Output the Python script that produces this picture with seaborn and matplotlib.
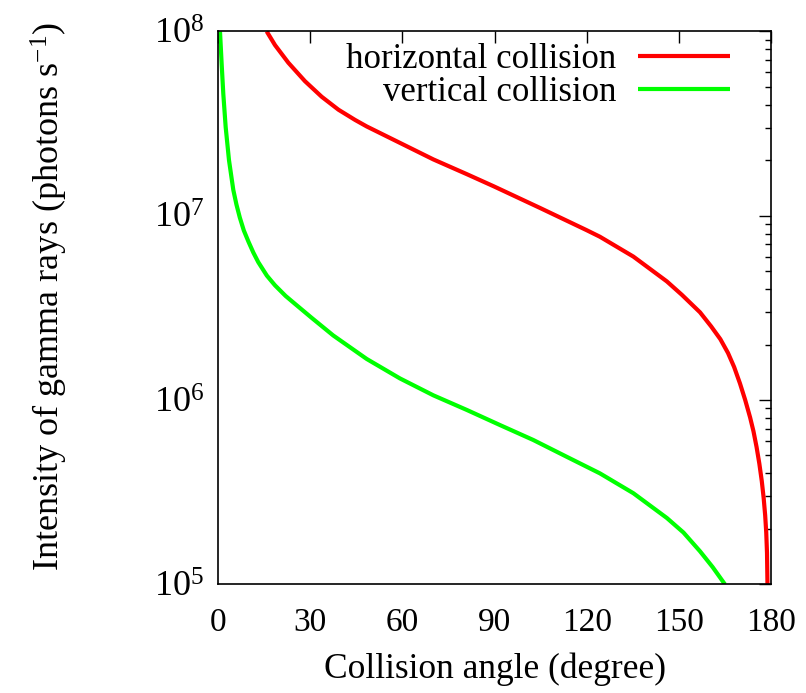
import numpy as np
import pandas as pd
import matplotlib
matplotlib.use("Agg")
import matplotlib.pyplot as plt
from matplotlib.ticker import LogLocator, NullLocator, FixedLocator
import seaborn as sns

# ---- data ----
angle_h = [15.85, 18.55, 22.9, 28.3, 33.75, 39.2, 44.6, 48.4, 59.3, 70.1, 81.0,
           89.9, 104.9, 119.9, 124.3, 135.2, 146.1, 151.0, 156.9, 160.5, 163.5,
           166.0, 168.0, 169.9, 171.6, 173.2, 174.3, 175.3, 176.2, 177.0, 177.6,
           178.1, 178.45, 178.7, 178.85]
intensity_h = [1.00e8, 8.43e7, 6.76e7, 5.37e7, 4.42e7, 3.76e7, 3.31e7, 3.05e7,
               2.48e7, 2.02e7, 1.68e7, 1.44e7, 1.10e7, 8.36e6, 7.69e6, 6.00e6,
               4.40e6, 3.72e6, 2.99e6, 2.51e6, 2.14e6, 1.80e6, 1.51e6, 1.23e6,
               1.00e6, 8.04e5, 6.76e5, 5.56e5, 4.52e5, 3.63e5, 2.95e5, 2.37e5,
               1.91e5, 1.48e5, 1.00e5]

angle_v = [0.65, 1.2, 1.73, 2.5, 3.58, 4.98, 6.0, 7.1, 8.4, 9.9, 11.5, 13.1, 15.9,
           18.55, 22.0, 25.0, 30.5, 37.5, 48.4, 59.2, 70.1, 81.0, 91.8, 102.6,
           113.5, 124.3, 135.2, 146.1, 151.5, 156.9, 161.0, 165.0]
intensity_v = [1.00e8, 6.61e7, 4.57e7, 3.02e7, 2.00e7, 1.38e7, 1.15e7, 9.77e6,
               8.32e6, 7.24e6, 6.31e6, 5.60e6, 4.73e6, 4.19e6, 3.67e6, 3.33e6,
               2.79e6, 2.24e6, 1.67e6, 1.31e6, 1.06e6, 8.83e5, 7.31e5, 6.07e5,
               4.92e5, 4.00e5, 3.12e5, 2.29e5, 1.91e5, 1.51e5, 1.24e5, 1.00e5]

series_names = ["horizontal collision", "vertical collision"]
series_colors = ["#ff0000", "#00ff00"]
x_ticks = [0, 30, 60, 90, 120, 150, 180]
y_ticks = [1e5, 1e6, 1e7, 1e8]
y_tick_labels = ["10$^{5}$", "10$^{6}$", "10$^{7}$", "10$^{8}$"]
x_label = "Collision angle (degree)"
y_label = "Intensity of gamma rays (photons s$^{-1}$)"

df = pd.concat([
    pd.DataFrame({"angle": angle_h, "intensity": intensity_h, "series": series_names[0]}),
    pd.DataFrame({"angle": angle_v, "intensity": intensity_v, "series": series_names[1]}),
], ignore_index=True)

sns.set_theme(style="white")
plt.rcParams["font.family"] = ["Liberation Serif", "DejaVu Serif"]
plt.rcParams["text.color"] = "black"
plt.rcParams["axes.labelcolor"] = "black"
plt.rcParams["mathtext.fontset"] = "custom"
plt.rcParams["mathtext.rm"] = "Liberation Serif"
plt.rcParams["mathtext.it"] = "Liberation Serif:italic"
plt.rcParams["mathtext.bf"] = "Liberation Serif:bold"

fig = plt.figure(figsize=(8.06, 6.93), dpi=100)
ax = fig.add_axes([218 / 806, 1 - 584.3 / 693, (771 - 218) / 806, (584.3 - 31.4) / 693])

sns.lineplot(data=df, x="angle", y="intensity", hue="series", hue_order=series_names,
             palette=series_colors, linewidth=3.0, ax=ax, sort=False, estimator=None,
             legend=True, solid_joinstyle="round", solid_capstyle="butt")

ax.set_yscale("log")
ax.set_xlim(0, 180)
ax.set_ylim(1e5, 1e8)

ax.xaxis.set_major_locator(FixedLocator(x_ticks))
ax.xaxis.set_minor_locator(NullLocator())
ax.set_xticklabels([str(t) for t in x_ticks])
ax.yaxis.set_major_locator(FixedLocator(y_ticks))
ax.set_yticklabels(y_tick_labels)
ax.yaxis.set_minor_locator(LogLocator(base=10, subs=np.arange(2, 10), numticks=20))
ax.yaxis.set_minor_formatter(plt.NullFormatter())

ax.tick_params(which="both", direction="in", top=True, right=True,
               color="black", width=1.0, labelcolor="black")
ax.tick_params(axis="x", labelsize=24)
ax.tick_params(axis="y", labelsize=26)
ax.tick_params(which="major", length=8.5)
ax.tick_params(which="minor", length=4.5)
ax.tick_params(axis="x", which="major", pad=17)
ax.tick_params(axis="y", which="major", pad=10)

for s in ax.spines.values():
    s.set_visible(True)
    s.set_color("black")
    s.set_linewidth(1.2)

ax.set_xlabel(x_label, fontsize=25.5, color="black", labelpad=10)
ax.set_ylabel(y_label, fontsize=26, color="black", labelpad=60)
ax.yaxis.label.set_y(0.52)

handles, labels = ax.get_legend_handles_labels()
ax.legend(handles, labels, loc="upper right", bbox_to_anchor=(0.957, 1.011),
          frameon=False, markerfirst=False, fontsize=25, handlelength=2.65,
          handletextpad=0.63, labelspacing=0.0, borderpad=0.0, labelcolor="black")

fig.savefig("out.png", dpi=100, facecolor="white")
